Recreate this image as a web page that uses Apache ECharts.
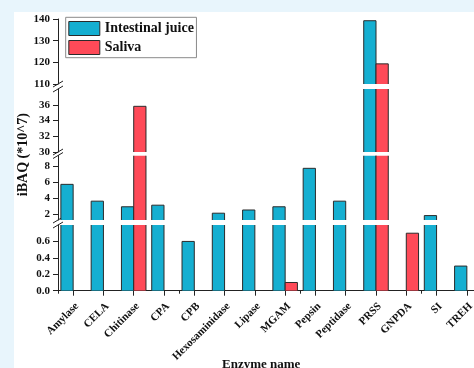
<!DOCTYPE html>
<html>
<head>
<meta charset="utf-8">
<script src="https://cdn.jsdelivr.net/npm/echarts@6/dist/echarts.min.js"></script>
<style>
  html, body { margin: 0; padding: 0; background: #E8F5FC; width: 474px; height: 368px; overflow: hidden; }
  #chart { position: absolute; left: 14px; top: 12px; width: 460px; height: 356px; background: #ffffff; }
</style>
</head>
<body>
<div id="chart"></div>
<script>
// Enzyme abundance (iBAQ, x10^7) in intestinal juice and saliva
const categories = ['Amylase', 'CELA', 'Chitinase', 'CPA', 'CPB', 'Hexosaminidase', 'Lipase',
  'MGAM', 'Pepsin', 'Peptidase', 'PRSS', 'GNPDA', 'SI', 'TREH'];
const intestinalJuice = [5.7, 3.6, 2.9, 3.1, 0.6, 2.1, 2.5, 2.9, 7.7, 3.6, 139.2, null, 1.8, 0.3];
const saliva = [null, null, 35.8, null, null, null, null, 0.1, null, null, 119.3, 0.7, null, null];

// Broken value axis: one segment per grid, listed bottom to top
const segRanges = [[0, 0.8], [1.25, 9.3], [30, 38], [110, 140]];
const segTicks = [[0, 0.2, 0.4, 0.6], [2, 4, 6, 8], [30, 32, 34, 36], [110, 120, 130, 140]];
const segLabelDigits = [1, 0, 0, 0];

const seriesNames = ['Intestinal juice', 'Saliva'];
const seriesData = [intestinalJuice, saliva];

const COLORS = ['#15AFD1', '#FF4A58'];
const EDGE = '#2b2b2b';
const FONT = '"Liberation Serif", "Times New Roman", serif';

const gridTops = [213, 143.5, 77, 7];
const gridHeights = [65.7, 64.5, 63, 65];
const LEFT = 44;
const AXIS_X = LEFT;

const grids = gridTops.map((t, k) => ({
  left: LEFT, right: -8, top: t, height: gridHeights[k],
  outerBoundsMode: 'none', containLabel: false
}));

const xAxes = grids.map((g, k) => ({
  type: 'category', gridIndex: k, data: categories,
  show: k === 0,
  axisLine: { show: true, lineStyle: { color: '#222', width: 1 } },
  axisTick: { show: true, alignWithLabel: true, length: 5, lineStyle: { color: '#222' } },
  axisLabel: {
    show: true, rotate: 45, margin: 10, interval: 0, hideOverlap: false,
    verticalAlign: 'top',
    fontFamily: FONT, fontWeight: 'bold', fontSize: 11, color: '#111'
  }
}));
// Short ticks on the category boundaries of the bottom axis
xAxes.push({
  type: 'category', gridIndex: 0, data: categories, position: 'bottom',
  axisLine: { show: false }, axisLabel: { show: false },
  axisTick: { show: true, alignWithLabel: false, length: 3, lineStyle: { color: '#222' } }
});

const yAxes = segRanges.map((r, k) => ({
  type: 'value', gridIndex: k, min: r[0], max: r[1],
  splitLine: { show: false },
  axisLine: { show: true, lineStyle: { color: '#222', width: 1 } },
  axisTick: { show: true, length: 5, customValues: segTicks[k], lineStyle: { color: '#222' } },
  axisLabel: {
    customValues: segTicks[k], margin: 8,
    fontFamily: FONT, fontWeight: 'bold', fontSize: 11, color: '#111',
    formatter: v => Number(v).toFixed(segLabelDigits[k])
  }
}));

function makeRender(lo, hi, side, color) {
  return function (params, api) {
    const v = api.value(1);
    if (v == null || isNaN(v) || v <= lo) return;
    const i = api.value(0);
    const top = Math.min(v, hi);
    const pT = api.coord([i, top]);
    const pB = api.coord([i, lo]);
    const bw = api.size([1, 0])[0] * 0.405;
    const x0 = side < 0 ? pT[0] - bw : pT[0];
    const x1 = x0 + bw;
    const children = [{
      type: 'rect',
      shape: { x: x0, y: pT[1], width: bw, height: pB[1] - pT[1] },
      style: { fill: color }
    }];
    const lineStyle = { stroke: EDGE, lineWidth: 1, fill: null };
    if (v <= hi) {
      children.push({ type: 'polyline', shape: { points: [[x0, pB[1]], [x0, pT[1]], [x1, pT[1]], [x1, pB[1]]] }, style: lineStyle });
    } else {
      children.push({ type: 'line', shape: { x1: x0, y1: pB[1], x2: x0, y2: pT[1] }, style: lineStyle });
      children.push({ type: 'line', shape: { x1: x1, y1: pB[1], x2: x1, y2: pT[1] }, style: lineStyle });
    }
    return { type: 'group', children };
  };
}

const series = [];
segRanges.forEach((r, k) => {
  seriesData.forEach((vals, s) => {
    series.push({
      type: 'custom', name: seriesNames[s], xAxisIndex: k, yAxisIndex: k,
      itemStyle: { color: COLORS[s], borderColor: EDGE, borderWidth: 1 },
      clip: true,
      encode: { x: 0, y: 1 },
      renderItem: makeRender(r[0], r[1], s === 0 ? -1 : 1, COLORS[s]),
      data: vals.map((v, i) => [i, v == null ? NaN : v])
    });
  });
});

// Break marks on the value axis where segments meet
const breakGaps = [[72, 77], [140, 143.5], [208, 213]];
const breakMarks = [];
breakGaps.forEach(g => {
  g.forEach(y => {
    breakMarks.push({
      type: 'line', silent: true,
      shape: { x1: AXIS_X - 5, y1: y + 3, x2: AXIS_X + 5, y2: y - 3 },
      style: { stroke: '#222', lineWidth: 1 }
    });
  });
});

const chart = echarts.init(document.getElementById('chart'), null, { renderer: 'canvas' });
chart.setOption({
  animation: false,
  backgroundColor: '#ffffff',
  grid: grids,
  xAxis: xAxes,
  yAxis: yAxes,
  legend: {
    orient: 'vertical', left: 51.7, top: 5.3,
    padding: [3.7, 2.6, 2.7, 2.6], itemGap: 4, itemWidth: 31, itemHeight: 14,
    backgroundColor: '#ffffff', borderColor: '#8a8a8a', borderWidth: 1, borderRadius: 0,
    textStyle: { fontFamily: FONT, fontWeight: 'bold', fontSize: 14, color: '#111', lineHeight: 14 },
    data: seriesNames.map((n, s) => ({
      name: n, icon: 'rect',
      itemStyle: { color: COLORS[s], borderColor: EDGE, borderWidth: 1 }
    }))
  },
  graphic: breakMarks.concat([
    {
      type: 'text', left: 2, top: 101, rotation: Math.PI / 2,
      style: { text: 'iBAQ (*10^7)', font: 'bold 14px ' + FONT, fill: '#111' }
    },
    {
      type: 'text', left: 208, top: 346,
      style: { text: 'Enzyme name', font: 'bold 13px ' + FONT, fill: '#111' }
    }
  ]),
  series
});
</script>
</body>
</html>
